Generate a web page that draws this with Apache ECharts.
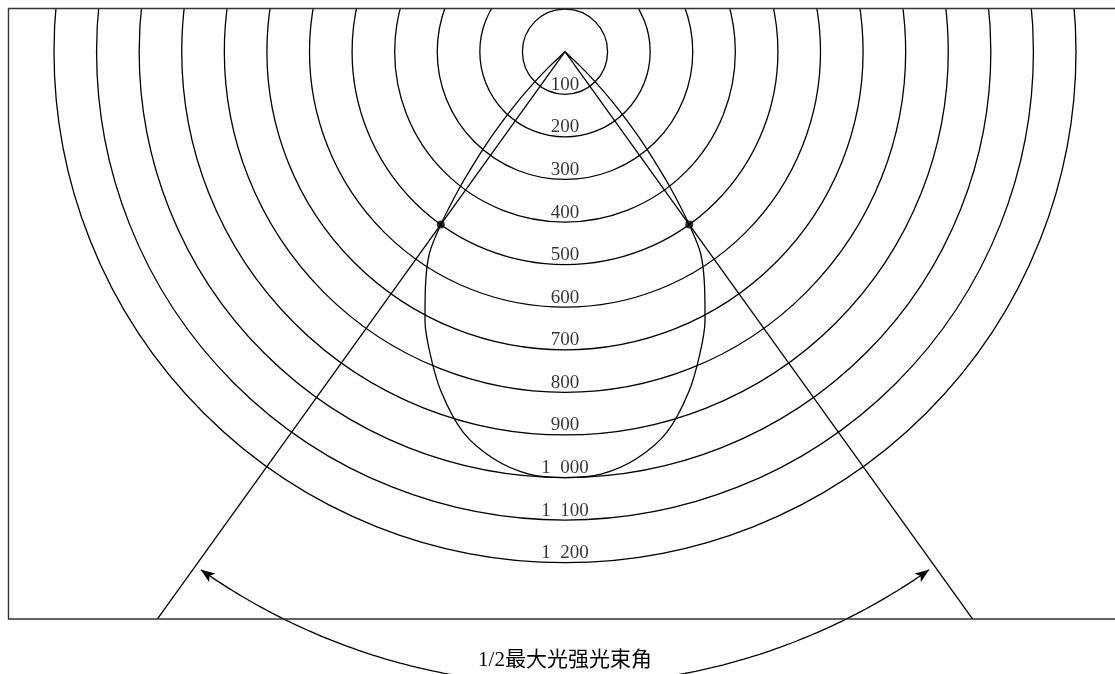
<!DOCTYPE html>
<html>
<head>
<meta charset="utf-8">
<script src="https://cdn.jsdelivr.net/npm/echarts@6/dist/echarts.min.js"></script>
<style>
html,body{margin:0;padding:0;background:#fff;}
#chart{width:1115px;height:674px;}
</style>
</head>
<body>
<div id="chart"></div>
<script>
// Ring values (cd) and their printed labels
const ringValues = [100, 200, 300, 400, 500, 600, 700, 800, 900, 1000, 1100, 1200];
const ringLabels = ['100', '200', '300', '400', '500', '600', '700', '800', '900',
                    '1\u2002000', '1\u2002100', '1\u2002200'];
// Intensity curve, one half (angle from the axis in degrees, intensity in cd)
const curveAngles = [0, 5, 10, 15, 20, 24, 27.5, 30.7, 33.9, 35.7, 37.6, 39, 40.5, 42, 43.5, 45, 46.5, 47.5];
const curveValues = [1000, 995, 970, 925, 850, 778, 712, 642, 571, 500, 412, 345, 280, 215, 160, 105, 50, 0];
// Half-intensity beam angle
const halfAngle = 35.7;
const halfValue = 500;
const beamLineLength = 1640;
const angleArcRadius = 1487;
const arcEndAngle = 35.1;
const arcLabel = '1/2最大光强光束角';

// build curve: left tip -> bottom -> right tip
const curveData = [];
for (let i = curveAngles.length - 1; i >= 0; i--) curveData.push([curveValues[i], curveAngles[i]]);
for (let i = 1; i < curveAngles.length; i++) curveData.push([curveValues[i], -curveAngles[i]]);

// dimension arc
const arcData = [];
for (let a = arcEndAngle; a >= -arcEndAngle - 0.001; a -= 0.5) {
  const ang = Math.round(a * 10) / 10;
  arcData.push({ value: [angleArcRadius, ang], symbol: 'none' });
}
arcData.push({ value: [angleArcRadius, -arcEndAngle], symbol: 'none' });
arcData[0] = { value: [angleArcRadius, arcEndAngle], symbol: 'arrow', symbolSize: [8, 14], symbolRotate: 90 - halfAngle };
arcData[arcData.length - 1] = { value: [angleArcRadius, -arcEndAngle], symbol: 'arrow', symbolSize: [8, 14], symbolRotate: -(90 - halfAngle) };

const chart = echarts.init(document.getElementById('chart'), null, { renderer: 'canvas' });
const lineStyle = { color: '#000', width: 1.3 };
const hiddenAngle = {
  type: 'value', min: -180, max: 180, interval: 90, startAngle: 90, clockwise: true,
  axisLine: { show: false }, axisTick: { show: false }, axisLabel: { show: false }, splitLine: { show: false }
};
const ringRadiusPx = 511;
const outerMax = 1800;
chart.setOption({
  animation: false,
  backgroundColor: '#fff',
  polar: [
    { center: [565, 51.7], radius: ringRadiusPx },
    { center: [565, 51.7], radius: ringRadiusPx * outerMax / 1200 }
  ],
  angleAxis: [
    Object.assign({ polarIndex: 0 }, hiddenAngle),
    Object.assign({ polarIndex: 1 }, hiddenAngle)
  ],
  radiusAxis: [
    {
      polarIndex: 0, type: 'value', min: 0, max: 1200, interval: 100,
      axisLine: { show: false }, axisTick: { show: false }, axisLabel: { show: false },
      splitLine: { show: true, lineStyle: { color: '#000', width: 1.3 } }
    },
    {
      polarIndex: 1, type: 'value', min: 0, max: outerMax, interval: 100,
      axisLine: { show: false }, axisTick: { show: false }, axisLabel: { show: false },
      splitLine: { show: false }
    }
  ],
  series: [
    {
      type: 'scatter', coordinateSystem: 'polar', polarIndex: 0, symbolSize: 0, silent: true,
      data: ringValues.map((v, i) => ({ value: [v, 0], name: ringLabels[i] })),
      label: {
        show: true, position: 'top', distance: 0,
        formatter: p => p.name, textBorderWidth: 0,
        fontFamily: '"Liberation Serif", "DejaVu Serif", serif', fontSize: 19, color: '#000'
      },
      z: 5
    },
    {
      type: 'line', coordinateSystem: 'polar', polarIndex: 1, clip: false, showSymbol: false,
      smooth: 0.3, lineStyle: lineStyle, data: curveData
    },
    {
      type: 'line', coordinateSystem: 'polar', polarIndex: 1, clip: false, showSymbol: false,
      lineStyle: lineStyle, data: [[0, halfAngle], [beamLineLength, halfAngle]]
    },
    {
      type: 'line', coordinateSystem: 'polar', polarIndex: 1, clip: false, showSymbol: false,
      lineStyle: lineStyle, data: [[0, -halfAngle], [beamLineLength, -halfAngle]]
    },
    {
      type: 'scatter', coordinateSystem: 'polar', polarIndex: 1, symbolSize: 8,
      itemStyle: { color: '#000' },
      data: [[halfValue, halfAngle], [halfValue, -halfAngle]], z: 6
    },
    {
      type: 'line', coordinateSystem: 'polar', polarIndex: 1, clip: false, showSymbol: true,
      lineStyle: lineStyle, itemStyle: { color: '#000' }, data: arcData
    }
  ],
  graphic: [
    { type: 'rect', z: 100, shape: { x: 0, y: 0, width: 1115, height: 8 }, style: { fill: '#fff' } },
    { type: 'rect', z: 101, shape: { x: 8.5, y: 8.5, width: 1120, height: 610.5 },
      style: { fill: null, stroke: '#333', lineWidth: 1.4 } },
    { type: 'text', z: 101, x: 565, y: 660,
      style: { text: arcLabel, fill: '#000', fontSize: 21,
        fontFamily: '"Liberation Serif", "Noto Sans CJK SC", serif',
        align: 'center', verticalAlign: 'middle' } }
  ]
});
</script>
</body>
</html>
